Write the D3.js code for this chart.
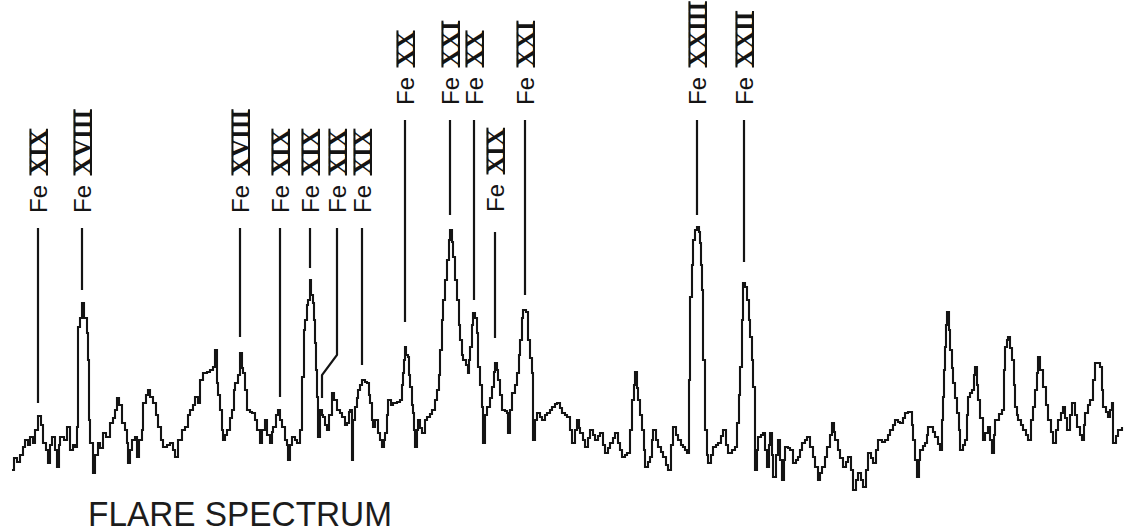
<!DOCTYPE html>
<html>
<head>
<meta charset="utf-8">
<script src="https://cdn.jsdelivr.net/npm/d3@7"></script>
<style>
  html, body { margin: 0; padding: 0; background: #fff; }
  svg { display: block; }
</style>
</head>
<body>
<svg id="chart" width="1124" height="532"></svg>
<script>
// Detector channel (dispersion direction) and recorded counts of the flare spectrum trace
const channel = [12,14,17,20,23,25,28,30,33,35,38,41,43,46,48,50,52,55,57,59,60,64,67,70,73,75,77,78,80,82,84,87,88,89,90,93,95,98,100,103,106,110,113,115,117,119,122,125,127,128,130,132,135,137,139,142,143,146,148,150,153,156,158,161,163,167,170,173,175,178,182,185,188,190,193,195,198,200,203,207,210,213,215,217,218,220,222,223,225,227,230,232,234,235,238,240,242,243,245,247,250,252,255,257,260,262,265,267,270,272,273,276,278,280,282,285,287,288,290,292,295,297,300,302,304,305,307,308,310,311,313,314,315,316,317,318,320,322,323,325,327,329,332,334,337,340,342,345,347,349,350,352,353,355,357,358,360,362,365,367,369,370,372,373,375,378,380,382,384,385,387,388,391,393,397,400,402,403,404,405,406,408,409,410,412,413,414,415,417,418,420,422,425,427,430,432,435,437,439,440,442,443,445,447,449,450,452,453,455,457,459,460,462,463,466,468,469,470,472,473,475,477,478,480,482,483,485,487,490,492,494,495,497,498,500,502,505,507,508,510,512,515,517,519,520,522,523,526,528,530,532,533,535,537,540,542,545,547,550,552,555,557,560,562,565,567,570,572,575,577,579,580,583,585,588,590,593,595,598,600,603,605,608,610,613,615,618,620,622,625,627,630,632,634,635,637,638,640,642,644,645,648,650,652,653,656,658,661,663,666,668,671,673,676,678,681,683,685,687,689,690,692,693,695,697,699,700,701,702,703,705,707,708,711,713,716,718,721,723,726,728,732,735,737,739,740,742,743,745,747,749,750,752,753,755,757,758,761,763,765,767,769,770,772,773,776,778,780,782,784,785,788,790,793,796,798,800,802,805,807,810,813,815,818,820,822,825,827,830,832,834,835,838,840,843,846,848,851,853,856,858,861,863,866,868,871,873,876,878,882,885,888,890,893,895,898,900,903,905,908,910,912,913,915,917,919,920,923,925,927,928,930,933,935,938,940,942,943,944,945,946,947,949,950,952,953,955,957,959,960,963,965,967,968,970,972,974,975,977,978,980,983,985,988,990,992,994,995,999,1002,1004,1005,1007,1008,1010,1012,1014,1015,1017,1018,1021,1023,1026,1028,1031,1033,1035,1037,1038,1040,1043,1046,1048,1051,1053,1056,1058,1061,1063,1065,1067,1070,1072,1075,1077,1080,1082,1084,1085,1088,1090,1093,1095,1098,1100,1102,1103,1106,1108,1110,1112,1113,1116,1118,1122];
const counts = [30,42,38,45,53,60,55,63,57,70,84,75,57,50,37,55,63,50,33,55,63,60,73,50,55,53,73,173,182,197,182,167,140,80,57,27,45,57,52,67,63,77,82,90,102,95,77,70,57,37,50,60,63,43,60,70,97,105,110,103,97,85,73,60,53,55,57,50,43,60,70,73,85,90,95,103,97,120,127,128,130,133,150,117,105,90,70,60,65,70,82,90,110,117,125,147,132,127,110,90,88,87,80,70,57,70,80,65,57,68,73,85,90,80,73,60,55,40,55,63,60,57,70,123,170,180,195,200,220,205,197,180,157,130,103,63,90,85,83,75,70,85,107,100,90,87,83,75,77,88,90,40,80,93,102,110,115,120,118,117,105,97,80,73,80,67,60,53,60,67,85,100,95,97,98,100,115,127,140,153,145,143,125,113,95,87,70,53,70,80,72,67,80,83,86,90,100,110,125,150,180,200,220,240,260,270,258,243,220,200,175,160,145,140,135,127,140,153,175,187,182,167,133,115,93,57,85,93,102,113,128,137,130,120,105,90,89,87,67,90,107,115,127,145,160,182,190,188,160,142,127,60,80,87,83,80,85,87,90,93,96,97,92,87,85,83,70,57,70,80,72,67,60,53,62,70,65,60,64,67,55,47,52,57,62,67,57,50,43,45,47,70,100,115,128,112,100,85,70,50,33,38,43,60,70,60,53,48,43,35,30,55,73,65,60,55,53,50,47,120,203,235,260,270,273,268,257,235,210,140,70,45,37,45,53,55,57,64,70,55,47,50,53,77,105,133,180,217,213,200,180,163,140,113,30,50,63,65,67,50,33,55,67,45,23,45,60,40,20,40,53,52,50,37,40,43,50,57,60,63,53,43,33,20,27,33,43,53,65,77,68,60,50,42,33,38,43,30,10,20,27,20,13,30,47,42,37,50,60,58,60,65,70,75,80,78,77,82,87,88,88,75,60,40,23,40,50,54,57,65,73,73,68,63,56,50,80,103,130,153,175,188,170,150,132,117,102,87,70,50,55,60,85,103,107,110,125,133,115,100,82,60,67,73,60,47,65,80,86,90,130,153,160,163,152,140,115,93,85,80,75,70,65,60,80,93,110,127,143,130,113,95,80,68,57,70,80,87,93,82,70,85,97,85,73,65,60,75,87,95,100,120,137,137,133,110,93,88,83,90,97,57,64,70,73];

// Identified emission lines: channel of the line, iron ion stage, label row (0 lower, 1 upper),
// and the count level where each identification marker stops
const lineChannel = [38, 82, 240, 280, 310, 322, 362, 405, 450, 474, 495, 525, 697, 744];
const lineIon = ["XIX", "XVIII", "XVIII", "XIX", "XIX", "XIX", "XIX", "XX", "XXI", "XX", "XIX", "XXI", "XXIII", "XXII"];
const lineRow = [0, 0, 0, 0, 0, 0, 0, 1, 1, 1, 0, 1, 1, 1];
const markerLevel = [97, 210, 163, 103, 232, 102, 135, 178, 285, 200, 162, 205, 285, 238];
const element = "Fe";
const chartTitle = "FLARE SPECTRUM";

const svg = d3.select("#chart");
const x = d3.scaleLinear().domain([0, 1124]).range([0, 1124]);
const y = d3.scaleLinear().domain([0, 500]).range([500, 0]);

const ink = "#141414";

// Spectrum trace, drawn as a stepped histogram
const trace = d3.line()
  .x(d => x(d[0]))
  .y(d => y(d[1]))
  .curve(d3.curveStepAfter);

svg.append("path")
  .datum(channel.map((c, i) => [c, counts[i]]))
  .attr("d", trace)
  .attr("fill", "none")
  .attr("stroke", ink)
  .attr("stroke-width", 2.1)
  .attr("stroke-linejoin", "miter");

// Line identifications
const rowTextStart = [213, 105];   // lower end of the rotated label text
const rowMarkerStart = [228, 120]; // top of the marker line
const minSpacing = 22, shiftSpacing = 27;
const lastLabelX = [-Infinity, -Infinity];

const ids = lineChannel.map((c, i) => {
  const r = lineRow[i];
  const lineX = x(c);
  let labelX = lineX;
  if (labelX - lastLabelX[r] < minSpacing) labelX = lastLabelX[r] + shiftSpacing;
  lastLabelX[r] = labelX;
  return { c, ion: lineIon[i], row: r, lineX, labelX, endY: y(markerLevel[i]) };
});

// Marker lines (bent where a label had to move aside)
svg.selectAll("path.marker")
  .data(ids)
  .join("path")
  .attr("class", "marker")
  .attr("fill", "none")
  .attr("stroke", ink)
  .attr("stroke-width", 2.2)
  .attr("d", d => {
    const top = d.row === 0 && d.c === 495 ? rowMarkerStart[0] + 4 : rowMarkerStart[d.row];
    if (Math.abs(d.labelX - d.lineX) < 0.5) {
      return `M${d.lineX},${top}V${d.endY}`;
    }
    return `M${d.labelX},${top}V${d.endY - 43}L${d.lineX},${d.endY - 23}V${d.endY}`;
  });

// Rotated labels: "Fe" followed by the ionisation stage in barred roman numerals
const feSize = 24, numSize = 25, capSerif = 0.662;
const labelG = svg.selectAll("g.label")
  .data(ids)
  .join("g")
  .attr("class", "label")
  .attr("transform", d => `translate(${d.labelX},${d.c === 495 ? rowTextStart[0] - 1 : rowTextStart[d.row]}) rotate(-90)`);

labelG.each(function(d) {
  const g = d3.select(this);
  const fe = g.append("text")
    .attr("x", 0)
    .attr("y", 9)
    .attr("font-family", "'Liberation Sans', Arial, sans-serif")
    .attr("font-size", feSize)
    .attr("fill", ink)
    .text(element);
  const feLen = fe.node().getComputedTextLength();
  const nx = feLen + 10;
  const num = g.append("text")
    .attr("x", nx)
    .attr("y", 9)
    .attr("font-family", "'Liberation Serif', 'Times New Roman', serif")
    .attr("font-weight", "bold")
    .attr("font-size", numSize)
    .attr("fill", ink)
    .text(d.ion);
  const nLen = num.node().getComputedTextLength();
  const topBar = 9 - capSerif * numSize;
  [9, topBar].forEach(by => {
    g.append("line")
      .attr("x1", nx - 0.5)
      .attr("x2", nx + nLen + 0.5)
      .attr("y1", by)
      .attr("y2", by)
      .attr("stroke", ink)
      .attr("stroke-width", 2);
  });
});

// Title
svg.append("text")
  .attr("x", 88)
  .attr("y", 526)
  .attr("font-family", "'Liberation Sans', Arial, sans-serif")
  .attr("font-size", 35)
  .attr("textLength", 304)
  .attr("lengthAdjust", "spacingAndGlyphs")
  .attr("fill", "#1c1c1c")
  .text(chartTitle);
</script>
</body>
</html>
